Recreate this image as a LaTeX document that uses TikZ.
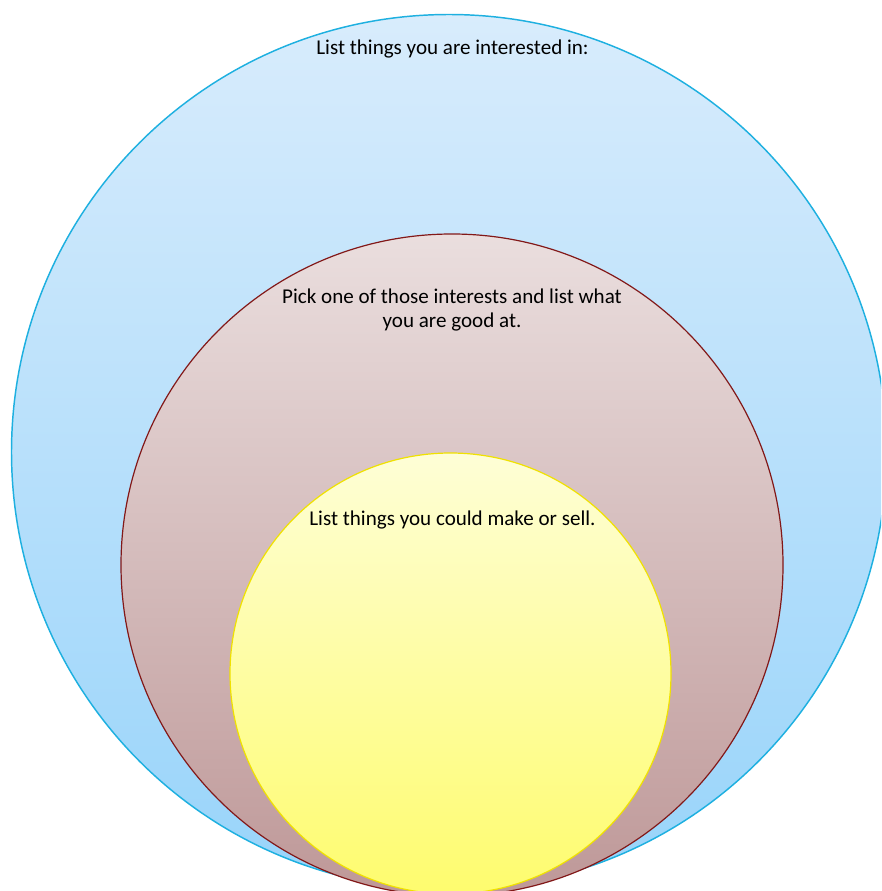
\documentclass[tikz,border=0pt]{standalone}
\usepackage{fontspec}
\setmainfont{Carlito}
\definecolor{outertop}{RGB}{216,236,252}
\definecolor{outerbot}{RGB}{152,212,250}
\definecolor{outerline}{RGB}{30,176,224}
\definecolor{midtop}{RGB}{234,222,222}
\definecolor{midbot}{RGB}{190,152,152}
\definecolor{midline}{RGB}{130,24,24}
\definecolor{innertop}{RGB}{254,254,214}
\definecolor{innerbot}{RGB}{254,252,110}
\definecolor{innerline}{RGB}{240,225,0}
\tikzset{
  label/.style={align=center, font=\fontsize{15.8}{18}\selectfont, text=black, inner sep=0pt},
}
\begin{document}
\begin{tikzpicture}[x=0.75pt, y=-0.75pt]
        \useasboundingbox (0, 0) rectangle (881, 891);
        \begin{scope}
        \clip (0, 0) rectangle (881, 891);
        % Cerchio esterno (azzurro)
        \shade[top color=outertop, bottom color=outerbot] (449, 452) circle (437.5);
        \draw[outerline, line width=1.1pt] (449, 452) circle (437.5);

        % Cerchio intermedio (rosato)
        \shade[top color=midtop, bottom color=midbot] (452, 565) circle (331);
        \draw[midline, line width=0.9pt] (452, 565) circle (331);

        % Cerchio interno (giallo)
        \shade[top color=innertop, bottom color=innerbot] (450.5, 673.5) circle (220.5);
        \draw[innerline, line width=0.9pt] (450.5, 673.5) circle (220.5);
        \end{scope}

        % Testi
        \node[label] (interests) at (452.5, 49) {List things you are interested in:};
        \node[label] (goodat) at (452, 310) {Pick one of those interests and list what\\you are good at.};
        \node[label] (makesell) at (452.5, 520) {List things you could make or sell.};
    \end{tikzpicture}
\end{document}
